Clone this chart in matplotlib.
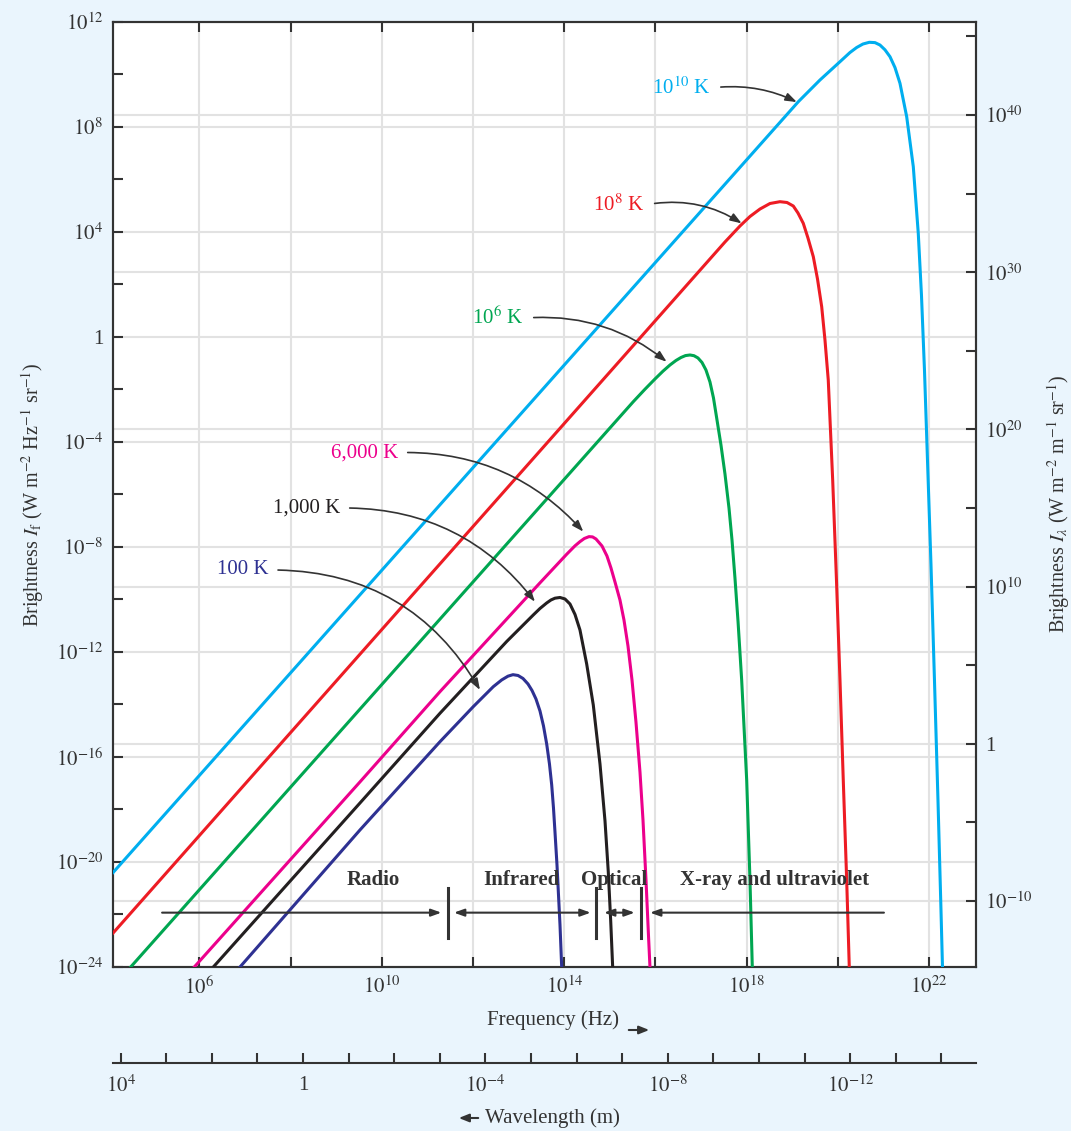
import numpy as np
import matplotlib
matplotlib.use('Agg')
import matplotlib.pyplot as plt
from matplotlib.patches import FancyArrowPatch
from matplotlib.ticker import FixedLocator, FuncFormatter, NullLocator

plt.rcParams['font.family'] = ['Liberation Serif', 'DejaVu Serif']
plt.rcParams['mathtext.fontset'] = 'stix'

# values: log10 of frequency (Hz) and log10 of brightness
lf_100 = [6.888, 9.52, 11.274, 12.004, 12.443, 12.627, 12.765, 12.875, 12.985, 13.094,
          13.204, 13.292, 13.379, 13.467, 13.544, 13.614, 13.675, 13.724, 13.763, 13.796,
          13.84, 13.873, 13.906, 13.928, 13.943]
li_100 = [-24.0, -18.78, -15.42, -14.085, -13.324, -13.068, -12.924, -12.867, -12.897, -13.011,
          -13.221, -13.468, -13.792, -14.249, -14.82, -15.506, -16.267, -17.067, -17.943, -18.857,
          -20.113, -21.256, -22.398, -23.35, -24.0]

lf_1000 = [6.303, 9.52, 11.274, 12.737, 13.32, 13.467, 13.614, 13.708, 13.796, 13.906,
           14.015, 14.125, 14.235, 14.344, 14.491, 14.636, 14.783, 14.893, 14.965, 15.018, 15.061]
li_1000 = [-24.0, -17.753, -14.337, -11.603, -10.593, -10.346, -10.136, -10.022, -9.954, -9.927,
           -9.984, -10.175, -10.574, -11.165, -12.459, -14.021, -16.267, -18.438, -20.38, -22.246, -24.0]

lf_6000 = [5.886, 9.52, 11.274, 13.467, 14.053, 14.235, 14.344, 14.44, 14.542, 14.62,
           14.695, 14.827, 14.936, 15.024, 15.112, 15.221, 15.309, 15.397, 15.485, 15.572,
           15.66, 15.726, 15.792, 15.846, 15.879]
li_6000 = [-24.0, -16.95, -13.514, -9.37, -8.28, -7.96, -7.8, -7.68, -7.61, -7.62,
           -7.699, -7.966, -8.347, -8.804, -9.337, -10.023, -10.784, -11.774, -13.069, -14.669,
           -16.573, -18.401, -20.686, -22.78, -24.0]

lf_1e6 = [4.491, 15.513, 15.77, 15.989, 16.164, 16.318, 16.449, 16.559, 16.658, 16.757,
          16.844, 16.932, 17.02, 17.107, 17.195, 17.272, 17.342, 17.436, 17.524, 17.612,
          17.678, 17.743, 17.811, 17.89, 18.0, 18.072, 18.123]
li_1e6 = [-24.0, -2.471, -1.995, -1.606, -1.309, -1.073, -0.902, -0.788, -0.715, -0.692,
          -0.719, -0.806, -0.978, -1.264, -1.721, -2.33, -3.091, -4.119, -5.224, -6.519,
          -7.737, -9.184, -10.86, -13.069, -16.877, -20.685, -24.0]

lf_1e8 = [4.103, 17.524, 17.853, 18.072, 18.292, 18.511, 18.73, 18.884, 19.022, 19.125,
          19.241, 19.344, 19.461, 19.553, 19.645, 19.717, 19.789, 19.886, 19.969, 20.046,
          20.118, 20.193, 20.25]
li_1e8 = [-22.71, 3.611, 4.22, 4.582, 4.867, 5.077, 5.146, 5.115, 4.982, 4.715,
          4.323, 3.763, 3.051, 2.202, 1.147, -0.121, -1.644, -5.452, -9.26, -13.068,
          -16.876, -20.684, -24.0]

lf_1e10 = [4.103, 19.132, 19.607, 20.046, 20.265, 20.412, 20.55, 20.689, 20.814, 20.923,
           21.033, 21.143, 21.252, 21.362, 21.509, 21.654, 21.763, 21.833, 21.899, 21.965,
           22.042, 22.118, 22.195, 22.261, 22.294]
li_1e10 = [-20.406, 8.953, 9.78, 10.477, 10.827, 11.018, 11.151, 11.216, 11.204, 11.113,
           10.93, 10.667, 10.256, 9.654, 8.382, 6.478, 3.942, 1.592, -1.264, -4.691,
           -8.689, -13.069, -17.638, -21.827, -24.0]

curves = [(lf_100, li_100), (lf_1000, li_1000), (lf_6000, li_6000),
          (lf_1e6, li_1e6), (lf_1e8, li_1e8), (lf_1e10, li_1e10)]
names = ['100 K', '1,000 K', '6,000 K', r'10$^{6}$ K', r'10$^{8}$ K', r'10$^{10}$ K']
colors = ['#2e3192', '#231f20', '#ec008c', '#00a651', '#ed1c24', '#00aeef']

# spectral bands (log10 Hz)
band_names = ['Radio', 'Infrared', 'Optical', 'X-ray and ultraviolet']
band_edges = [11.45, 14.70, 15.68]
band_span = [5.18, 21.01]

BG = '#eaf5fd'
INK = '#333333'

fig = plt.figure(figsize=(10.71, 11.31), dpi=100, facecolor=BG)
ax = fig.add_axes([0.1055, 0.145, 0.8055, 0.8358])
ax_r = ax.twinx()
# keep the right-hand scale (and its grid) underneath the curves
ax.set_zorder(ax_r.get_zorder() + 1)
ax.patch.set_visible(False)
ax_r.patch.set_visible(True)
ax_r.set_facecolor('white')

ax.set_xscale('log')
ax.set_yscale('log')
ax.set_xlim(10**4.103, 10**23.022)
ax.set_ylim(1e-24, 1e12)
ax_r.set_yscale('log')
ax_r.set_ylim(10**-14.2, 10**45.94)


def pow_label(e):
    return '1' if e == 0 else r'$10^{%d}$' % e


def every(n, r=0):
    def f(v, p):
        e = int(round(np.log10(v)))
        return pow_label(e) if e % n == r else ''
    return FuncFormatter(f)


xt = np.arange(6, 23, 2)
ax.xaxis.set_major_locator(FixedLocator(10.0**xt))
ax.xaxis.set_major_formatter(every(4, 2))
yt = np.arange(-24, 13, 2)
ax.yaxis.set_major_locator(FixedLocator(10.0**yt))
ax.yaxis.set_major_formatter(every(4))
rt = np.arange(-10, 46, 5)
ax_r.yaxis.set_major_locator(FixedLocator(10.0**rt))
ax_r.yaxis.set_major_formatter(every(10))
for a in (ax, ax_r):
    a.xaxis.set_minor_locator(NullLocator())
    a.yaxis.set_minor_locator(NullLocator())
    for s in a.spines.values():
        s.set_linewidth(1.5)
        s.set_color(INK)

ax.tick_params(which='major', direction='in', length=7, width=1.5, color=INK,
               labelcolor=INK, labelsize=15, top=True, right=False, pad=7)
ax_r.tick_params(which='major', direction='in', length=7, width=1.5, color=INK,
                 labelcolor=INK, labelsize=15, pad=7)

# grid
grid_kw = dict(color='#e2e2e2', lw=1.5, zorder=0)
for e in xt:
    ax_r.axvline(10.0**e, **grid_kw)
for e in range(-20, 13, 4):
    ax_r.axhline(10**(-14.2 + (e + 24) / 36 * 60.14), **grid_kw)
for e in range(-10, 41, 10):
    ax_r.axhline(10.0**e, **grid_kw)

for (lf, li), c in zip(curves, colors):
    ax.plot(10.0**np.array(lf), 10.0**np.array(li), color=c, lw=2.2, zorder=3,
            solid_joinstyle='round')

# curve labels with curved pointers
label_spots = [((7.509, -8.88), (12.151, -13.45), -0.29),
               ((9.081, -6.52), (13.357, -10.09), -0.25),
               ((10.353, -4.41), (14.417, -7.42), -0.23),
               ((13.117, 0.71), (16.245, -0.95), -0.2),
               ((15.77, 5.02), (17.89, 4.32), -0.2),
               ((17.22, 9.475), (19.10, 8.94), -0.15)]
for name, c, (txt, tip, rad) in zip(names, colors, label_spots):
    ax.annotate(name, xy=(10**tip[0], 10**tip[1]), xytext=(10**txt[0], 10**txt[1]),
                ha='right', va='center', fontsize=15, color=c, zorder=5,
                arrowprops=dict(arrowstyle='-|>,head_length=0.45,head_width=0.16',
                                color=INK, lw=1.2, shrinkA=5, shrinkB=0,
                                relpos=(1, 0.5), connectionstyle='arc3,rad=%s' % rad))

# spectral band markers
yb = 10**-21.93
arr = dict(color=INK, lw=1.5, shrinkA=0, shrinkB=0, mutation_scale=12)
ax.annotate('', xy=(10**11.305, yb), xytext=(10**band_span[0], yb),
            arrowprops=dict(arrowstyle='-|>,head_length=0.5,head_width=0.18', **arr))
ax.annotate('', xy=(10**14.579, yb), xytext=(10**11.58, yb),
            arrowprops=dict(arrowstyle='<|-|>,head_length=0.5,head_width=0.18', **arr))
ax.annotate('', xy=(10**15.544, yb), xytext=(10**14.871, yb),
            arrowprops=dict(arrowstyle='<|-|>,head_length=0.5,head_width=0.18', **arr))
ax.annotate('', xy=(10**15.88, yb), xytext=(10**band_span[1], yb),
            arrowprops=dict(arrowstyle='-|>,head_length=0.5,head_width=0.18', **arr))
for e in band_edges:
    ax.plot([10**e, 10**e], [10**-20.99, 10**-22.91], color=INK, lw=2.2, zorder=4)
for name, xc in zip(band_names, [9.805, 13.05, 15.09, 18.62]):
    ax.text(10**xc, 10**-20.68, name, ha='center', va='center', fontsize=15,
            fontweight='bold', color=INK, zorder=4)

ax.set_ylabel(r'Brightness $I_\mathrm{f}$ (W m$^{-2}$ Hz$^{-1}$ sr$^{-1}$)',
              fontsize=14.5, color=INK)
ax.yaxis.set_label_coords(-0.078, 0.5)
ax_r.set_ylabel(r'Brightness $I_\lambda$ (W m$^{-2}$ m$^{-1}$ sr$^{-1}$)',
                fontsize=14.5, color=INK)
ax_r.yaxis.set_label_coords(1.081, 0.49)

# frequency caption with arrow
fig.text(553 / 1071, 1 - 1020 / 1131, 'Frequency (Hz)', ha='center', va='center',
         fontsize=15, color=INK)
fig.add_artist(FancyArrowPatch(
    (626 / 1071, 1 - 1030 / 1131), (652 / 1071, 1 - 1030 / 1131),
    transform=fig.transFigure, arrowstyle='-|>,head_length=0.5,head_width=0.2',
    mutation_scale=12, color=INK, lw=1.5))

# wavelength axis underneath
axw = fig.add_axes([0.1055, 0.0601, 0.8055, 0.0001])
axw.set_facecolor('none')
for k in ('top', 'left', 'right'):
    axw.spines[k].set_visible(False)
axw.spines['bottom'].set_linewidth(1.5)
axw.spines['bottom'].set_color(INK)
axw.set_xscale('log')
axw.set_xlim(10**4.169, 10**-14.75)
axw.set_yticks([])
wt = np.arange(-14, 5)
axw.xaxis.set_major_locator(FixedLocator(10.0**wt))
axw.xaxis.set_minor_locator(NullLocator())
axw.xaxis.set_major_formatter(every(4))
axw.tick_params(axis='x', direction='in', length=7, width=1.5, color=INK,
                labelcolor=INK, labelsize=15, pad=9)

fig.add_artist(FancyArrowPatch(
    (481 / 1071, 1 - 1118 / 1131), (456 / 1071, 1 - 1118 / 1131),
    transform=fig.transFigure, arrowstyle='-|>,head_length=0.5,head_width=0.2',
    mutation_scale=12, color=INK, lw=1.5))
fig.text(485 / 1071, 1 - 1118 / 1131, 'Wavelength (m)', ha='left', va='center',
         fontsize=15, color=INK)

fig.savefig('out.png', dpi=100, facecolor=BG)
